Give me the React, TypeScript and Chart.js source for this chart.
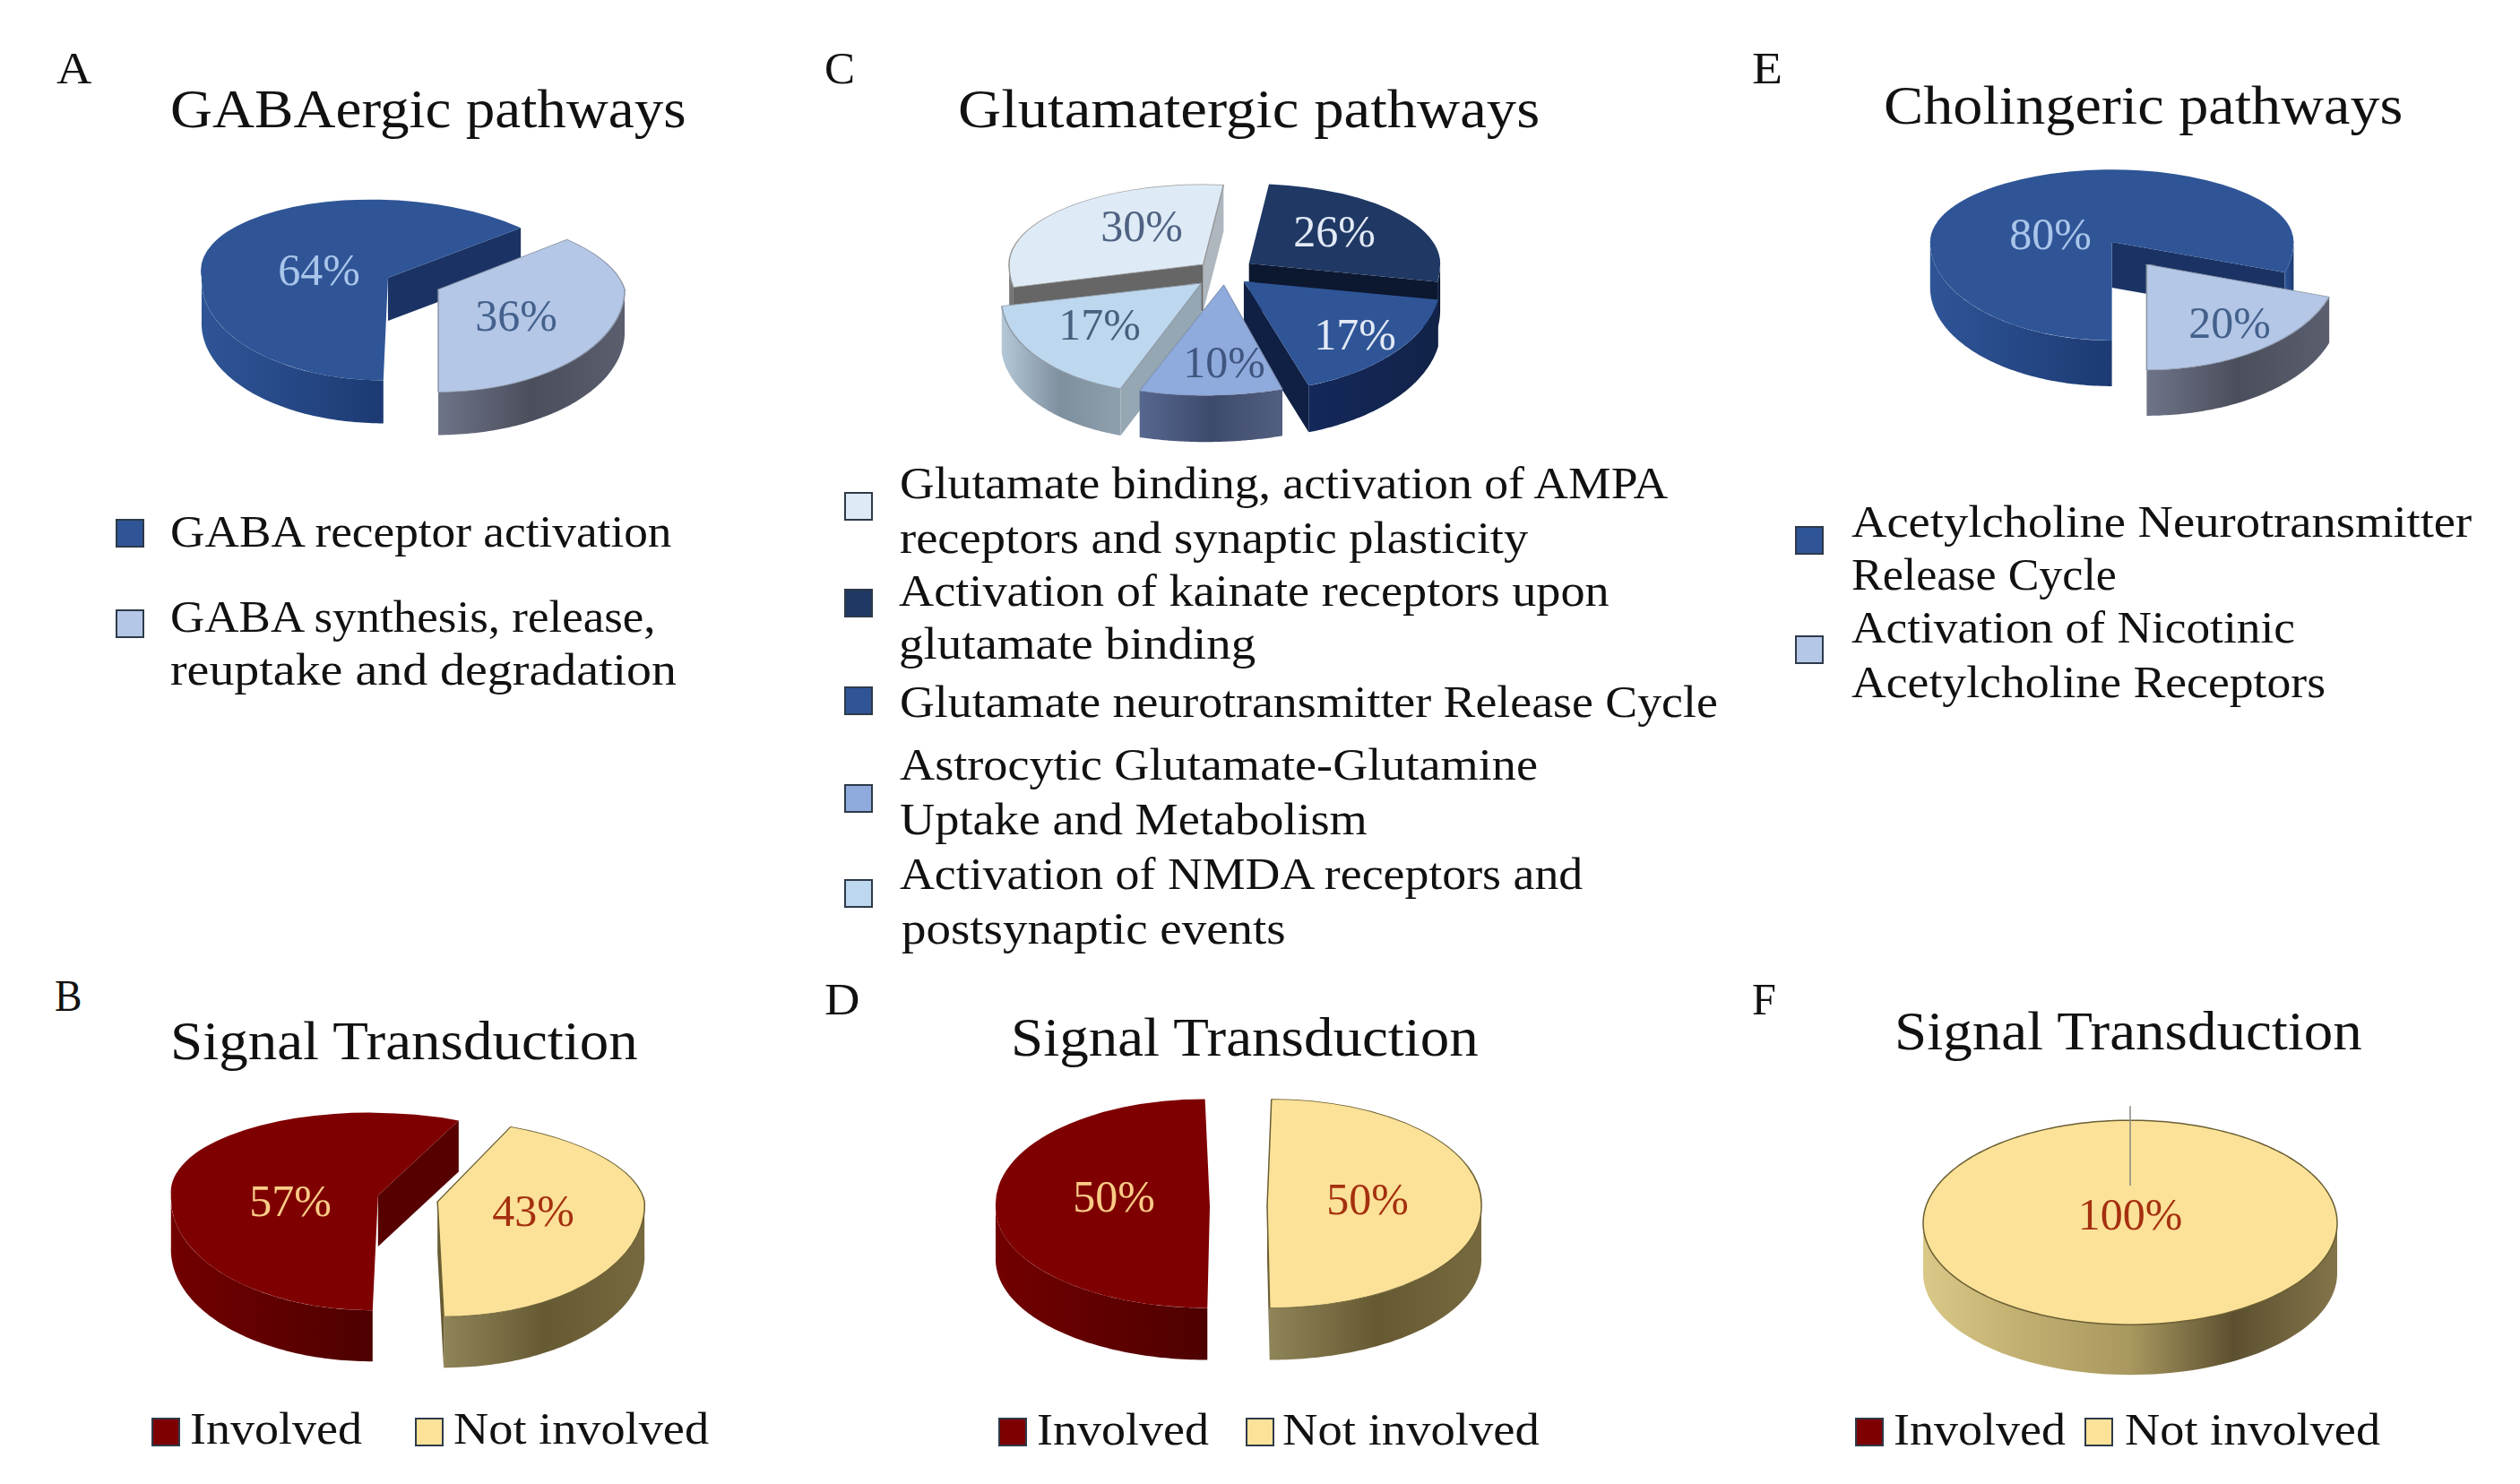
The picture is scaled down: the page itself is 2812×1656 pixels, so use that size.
import React, { useEffect, useLayoutEffect, useRef } from "react";
import { Chart, registerables } from "chart.js";

Chart.register(...registerables);
document.body.style.margin = "0";

// ---------- data ----------
const gabaLabels = ["GABA receptor activation", "GABA synthesis, release, reuptake and degradation"];
const gabaValues = [64, 36];
const glutamateLabels = [
  "Glutamate binding, activation of AMPA receptors and synaptic plasticity",
  "Activation of kainate receptors upon glutamate binding",
  "Glutamate neurotransmitter Release Cycle",
  "Astrocytic Glutamate-Glutamine Uptake and Metabolism",
  "Activation of NMDA receptors and postsynaptic events",
];
const glutamateValues = [30, 26, 17, 10, 17];
const cholineLabels = ["Acetylcholine Neurotransmitter Release Cycle", "Activation of Nicotinic Acetylcholine Receptors"];
const cholineValues = [80, 20];
const signalLabels = ["Involved", "Not involved"];
const signalValuesB = [57, 43];
const signalValuesD = [50, 50];
const signalValuesF = [0, 100];

// ---------- styles ----------
const FONT = '"Liberation Serif"';
type SliceStyle = { top: string; border?: string; bw?: number; wall: string[]; faceS?: string; faceE?: string; label: string };
const blue: SliceStyle = { top: "#2F5597", wall: ["#2F5597", "#1C3A73"], faceE: "#1A3364", faceS: "#1A3364", label: "#A9C5EA" };
const pale: SliceStyle = { top: "#B4C7E7", border: "#8D97A8", bw: 1.5, wall: ["#6E7488", "#4B4E5C", "#5A5E6E"], faceS: "#5A5E6E", faceE: "#5A5E6E", label: "#44618C" };
const red: SliceStyle = { top: "#7F0000", wall: ["#720000", "#4E0000"], faceS: "#560000", faceE: "#560000", label: "#F9CB87" };
const yellow: SliceStyle = { top: "#FBE298", border: "#6B5F33", bw: 1.5, wall: ["#8F8458", "#665A33", "#77693F"], faceS: "#665A33", faceE: "#665A33", label: "#A5300F" };
const yellowF: SliceStyle = { ...yellow, bw: 0, wall: ["#DAC888", "#C0AE70", "#A9985F", "#5C5030", "#83744A"] };
const c30: SliceStyle = { top: "#DEEBF7", border: "#999999", bw: 1.5, wall: ["#888888", "#666666"], faceS: "#666666", faceE: "#AEB6BE", label: "#4F6282" };
const c26: SliceStyle = { top: "#1F3864", wall: ["#13244A", "#0C1730"], faceS: "#0C1730", faceE: "#0C1730", label: "#E3EAF6" };
const c17b: SliceStyle = { top: "#2F5597", wall: ["#14285A", "#122349"], faceS: "#102044", faceE: "#102044", label: "#E3EAF6" };
const c10: SliceStyle = { top: "#8FAADC", border: "#7D8FB0", bw: 1, wall: ["#56678F", "#3E4A6C", "#525F80"], label: "#3F5680" };
const c17l: SliceStyle = { top: "#BDD7EE", border: "#8F9AA5", bw: 1.5, wall: ["#B4C8D8", "#7E8F9E", "#8E9FAE"], faceS: "#95A7B3", faceE: "#95A7B3", label: "#46607E" };

// per-slice perspective tweaks: widen, deepen, and lean the back / front half
type Tweak = { sx?: number; sy?: number; kB?: number; kF?: number };
type PieConf = {
  labels: string[]; values: number[]; styles: SliceStyle[];
  cx: number; cy: number; R: number; sqB: number; sqF: number; depth: number;
  rotation: number; explode: number[]; labelAt: number[][]; tweaks?: Tweak[]; seam?: boolean; rim?: string;
};

const pies: PieConf[] = [
  { labels: gabaLabels, values: gabaValues, styles: [blue, pale], cx: 461, cy: 315, R: 208, sqB: 0.42, sqF: 0.55, depth: 48, rotation: 180, explode: [31, 31],
    labelAt: [[356, 304], [576, 355]], tweaks: [{ kB: 0.217, kF: -0.045 }, { kB: 0.3 }] },
  { labels: signalLabels, values: signalValuesB, styles: [red, yellow], cx: 455, cy: 1336, R: 231, sqB: 0.4, sqF: 0.555, depth: 57, rotation: 180, explode: [34, 34],
    labelAt: [[324, 1343], [595, 1354]], tweaks: [{ kB: 0.1, kF: -0.047 }, { kB: 0.2, kF: 0.054 }] },
  { labels: glutamateLabels, values: glutamateValues, styles: [c30, c26, c17b, c10, c17l], cx: 1365, cy: 303, R: 220, sqB: 0.405, sqF: 0.56, depth: 52, rotation: 258, explode: [30, 36, 30, 26, 33],
    labelAt: [[1274, 256], [1489, 262], [1512, 377], [1366, 408], [1227, 366]],
    tweaks: [{ sx: 0.985 }, { sx: 0.97 }, {}, { sx: 1.17, kF: -0.165 }, { sx: 1.01, kF: -0.22 }] },
  { labels: signalLabels, values: signalValuesD, styles: [red, yellow], cx: 1382, cy: 1345, R: 239, sqB: 0.5, sqF: 0.475, depth: 58, rotation: 180, explode: [32, 32],
    labelAt: [[1243, 1338], [1526, 1341]], tweaks: [{ kB: 0.045, kF: -0.024 }, { kB: -0.04, kF: 0.024 }] },
  { labels: cholineLabels, values: cholineValues, styles: [blue, pale], cx: 2376, cy: 280, R: 208, sqB: 0.4, sqF: 0.545, depth: 51, rotation: 180, explode: [33, 33],
    labelAt: [[2288, 264], [2488, 363]], tweaks: [{ sx: 0.975, sy: 0.97 }, { sx: 1.03, sy: 1.04 }] },
  { labels: signalLabels, values: signalValuesF, styles: [red, yellowF], cx: 2377, cy: 1364, R: 231, sqB: 0.497, sqF: 0.49, depth: 56, rotation: 0, explode: [0, 0],
    labelAt: [[0, 0], [2377, 1358]], seam: true, rim: "#6B5F33" },
];

function pie3d(conf: PieConf, left: number, top: number) {
  return {
    id: "pie3d",
    beforeDatasetsDraw(chart: any) {
      const ctx: CanvasRenderingContext2D = chart.ctx;
      const arcs = chart.getDatasetMeta(0).data as any[];
      const { R, sqB, sqF, depth } = conf;
      const items = arcs.map((arc, i) => {
        const mid = (arc.startAngle + arc.endAngle) / 2;
        const full = arc.circumference >= Math.PI * 2 - 1e-6;
        const d = full ? 0 : conf.explode[i];
        const sin = Math.sin(mid);
        const ax = arc.x + d * Math.cos(mid);
        const ay = Math.round(arc.y + d * sin * (sin < 0 ? sqB : sqF));
        return { arc, i, ax, ay, full };
      }).filter((o) => o.arc.circumference > 0).sort((a, b) => a.ay - b.ay);

      for (const { arc, i, ax, ay, full } of items) {
        const st = conf.styles[i];
        const tw = (conf.tweaks && conf.tweaks[i]) || {};
        const sx = tw.sx ?? 1, sy = tw.sy ?? 1, kB = tw.kB ?? 0, kF = tw.kF ?? 0;
        const pt = (t: number, dy = 0): [number, number] => {
          const s = Math.sin(t);
          const yo = R * s * (s < 0 ? sqB : sqF) * sy;
          return [ax + sx * R * Math.cos(t) + (s < 0 ? kB : kF) * yo, ay + yo + dy];
        };
        const a0 = arc.startAngle, a1 = arc.endAngle;
        const face = (t: number, color?: string) => {
          if (!color) return;
          const p = pt(t), q = pt(t, depth);
          ctx.beginPath();
          ctx.moveTo(ax, ay); ctx.lineTo(p[0], p[1]); ctx.lineTo(q[0], q[1]); ctx.lineTo(ax, ay + depth);
          ctx.closePath();
          ctx.fillStyle = color;
          ctx.fill();
        };
        if (!full) {
          if (Math.cos(a0) < 0) face(a0, st.faceS);
          if (Math.cos(a1) > 0) face(a1, st.faceE);
        }
        // outer wall: only the front-facing stretch of the rim
        for (let k = -1; k <= 2; k++) {
          const lo = Math.max(a0, k * 2 * Math.PI), hi = Math.min(a1, Math.PI + k * 2 * Math.PI);
          if (hi <= lo) continue;
          const n = 80;
          const upper: [number, number][] = [];
          for (let j = 0; j <= n; j++) upper.push(pt(lo + ((hi - lo) * j) / n));
          const xs = upper.map((p) => p[0]);
          const g = ctx.createLinearGradient(Math.min(...xs), 0, Math.max(...xs), 0);
          st.wall.forEach((c, j) => g.addColorStop(j / (st.wall.length - 1), c));
          ctx.beginPath();
          upper.forEach((p, j) => (j ? ctx.lineTo(p[0], p[1]) : ctx.moveTo(p[0], p[1])));
          for (let j = n; j >= 0; j--) ctx.lineTo(upper[j][0], upper[j][1] + depth);
          ctx.closePath();
          ctx.fillStyle = g;
          ctx.fill();
        }
        // top face: the library's own arc, transformed differently behind and in front of its apex
        const W = chart.width, H = chart.height;
        for (const part of [0, 1]) {
          ctx.save();
          ctx.beginPath();
          if (part === 0) ctx.rect(0, 0, W, ay + 1); else ctx.rect(0, ay, W, H - ay);
          ctx.clip();
          const q = (part === 0 ? sqB : sqF) * sy;
          ctx.translate(ax, ay);
          ctx.transform(sx, 0, (part === 0 ? kB : kF) * q, q, 0, 0);
          ctx.translate(-arc.x, -arc.y);
          arc.draw(ctx);
          ctx.restore();
        }
        if (full && conf.rim) {
          ctx.beginPath();
          for (let j = 0; j <= 240; j++) {
            const p = pt((j / 240) * 2 * Math.PI);
            j ? ctx.lineTo(p[0], p[1]) : ctx.moveTo(p[0], p[1]);
          }
          ctx.closePath();
          ctx.strokeStyle = conf.rim;
          ctx.lineWidth = 1.5;
          ctx.stroke();
        }
        if (conf.seam) {
          ctx.beginPath();
          ctx.moveTo(ax, ay - R * sqB - 16);
          ctx.lineTo(ax, ay - 42);
          ctx.strokeStyle = "#8A8A80";
          ctx.lineWidth = 1.5;
          ctx.stroke();
        }
      }
      return false;
    },
    afterDraw(chart: any) {
      const ctx: CanvasRenderingContext2D = chart.ctx;
      ctx.save();
      ctx.font = `50px ${FONT}`;
      ctx.textAlign = "center";
      ctx.textBaseline = "middle";
      conf.values.forEach((v, i) => {
        if (!v) return;
        ctx.fillStyle = conf.styles[i].label;
        ctx.fillText(`${v}%`, conf.labelAt[i][0] - left, conf.labelAt[i][1] - top);
      });
      ctx.restore();
    },
  };
}

function Pie({ conf }: { conf: PieConf }) {
  const ref = useRef<HTMLCanvasElement>(null);
  const W = 2 * conf.R + 140;
  const H = Math.round(2 * (conf.R * 0.7 + conf.depth + 30));
  const left = conf.cx - W / 2, top = conf.cy - H / 2;
  useEffect(() => {
    const chart = new Chart(ref.current as HTMLCanvasElement, {
      type: "pie",
      data: {
        labels: conf.labels,
        datasets: [{
          data: conf.values,
          backgroundColor: conf.styles.map((s) => s.top),
          borderColor: conf.styles.map((s) => s.border || s.top),
          borderWidth: conf.styles.map((s) => s.bw || 0),
          radius: conf.R,
        } as any],
      },
      options: {
        responsive: false,
        animation: false,
        devicePixelRatio: 1,
        rotation: conf.rotation,
        layout: { padding: 0 },
        events: [],
        plugins: { legend: { display: false }, title: { display: false }, tooltip: { enabled: false } },
      },
      plugins: [pie3d(conf, left, top)],
    } as any);
    return () => chart.destroy();
  }, []);
  return <canvas ref={ref} width={W} height={H} style={{ position: "absolute", left, top, width: W, height: H }} />;
}

// ---------- text layout ----------
const U = 1.7934;
function Fit({ text, x0, x1, base, size }: { text: string; x0: number; x1: number; base: number; size: number }) {
  const ref = useRef<HTMLSpanElement>(null);
  useLayoutEffect(() => {
    const el = ref.current as HTMLSpanElement;
    el.style.transform = "none";
    const w = el.getBoundingClientRect().width;
    el.style.transform = `scaleX(${((x1 - x0) * U) / w})`;
  }, []);
  return (
    <span ref={ref} style={{
      position: "absolute", left: x0 * U, top: base * U - 0.8375 * size, fontFamily: FONT, fontSize: size,
      lineHeight: `${size}px`, whiteSpace: "nowrap", color: "#111", transformOrigin: "0 0",
    }}>{text}</span>
  );
}
function Swatch({ x, yc, color }: { x: number; yc: number; color: string }) {
  return <div style={{
    position: "absolute", left: x * U, top: yc * U - 16, width: 32, height: 32, boxSizing: "border-box",
    background: color, border: "2px solid #2E3A4A",
  }} />;
}

const LEG = 50, TTL = 61;
type T = [string, number, number, number, number];
const texts: T[] = [
  ["A", 35, 57, 52, LEG], ["GABAergic pathways", 106, 427, 79, TTL],
  ["GABA receptor activation", 106, 418, 340, LEG],
  ["GABA synthesis, release,", 106, 408, 393, LEG],
  ["reuptake and degradation", 106, 421, 426, LEG],
  ["C", 513, 532, 52, LEG], ["Glutamatergic pathways", 596, 958, 79, TTL],
  ["Glutamate binding, activation of AMPA", 560, 1038, 310, LEG],
  ["receptors and synaptic plasticity", 560, 951, 344, LEG],
  ["Activation of kainate receptors upon", 559, 1001, 377, LEG],
  ["glutamate binding", 559, 781, 410, LEG],
  ["Glutamate neurotransmitter Release Cycle", 560, 1069, 446, LEG],
  ["Astrocytic Glutamate-Glutamine", 560, 957, 485, LEG],
  ["Uptake and Metabolism", 560, 851, 519, LEG],
  ["Activation of NMDA receptors and", 560, 985, 553, LEG],
  ["postsynaptic events", 561, 800, 587, LEG],
  ["E", 1090, 1109, 52, LEG], ["Cholingeric pathways", 1172, 1495, 77, TTL],
  ["Acetylcholine Neurotransmitter", 1152, 1538, 334, LEG],
  ["Release Cycle", 1152, 1317, 367, LEG],
  ["Activation of Nicotinic", 1152, 1428, 400, LEG],
  ["Acetylcholine Receptors", 1152, 1447, 434, LEG],
  ["B", 34, 51, 629, LEG], ["Signal Transduction", 106, 397, 659, TTL],
  ["Involved", 118, 225, 898, LEG], ["Not involved", 282, 441, 898, LEG],
  ["D", 513, 535, 631, LEG], ["Signal Transduction", 629, 920, 657, TTL],
  ["Involved", 645, 752, 899, LEG], ["Not involved", 798, 958, 899, LEG],
  ["F", 1090, 1105, 631, LEG], ["Signal Transduction", 1179, 1470, 653, TTL],
  ["Involved", 1178, 1285, 899, LEG], ["Not involved", 1322, 1481, 899, LEG],
];
const swatches: [number, number, string][] = [
  [72, 332, blue.top], [72, 388, pale.top],
  [525, 315, c30.top], [525, 375, c26.top], [525, 436, c17b.top], [525, 497, c10.top], [525, 556, c17l.top],
  [1117, 336, blue.top], [1117, 404, pale.top],
  [94, 891, red.top], [258, 891, yellow.top],
  [621, 891, red.top], [775, 891, yellow.top],
  [1154, 891, red.top], [1297, 891, yellow.top],
];

export default function App() {
  return (
    <div style={{ position: "relative", width: 2812, height: 1656, background: "#fff", overflow: "hidden" }}>
      {pies.map((p, i) => <Pie key={i} conf={p} />)}
      {swatches.map((s, i) => <Swatch key={i} x={s[0]} yc={s[1]} color={s[2]} />)}
      {texts.map((t, i) => <Fit key={i} text={t[0]} x0={t[1]} x1={t[2]} base={t[3]} size={t[4]} />)}
    </div>
  );
}
